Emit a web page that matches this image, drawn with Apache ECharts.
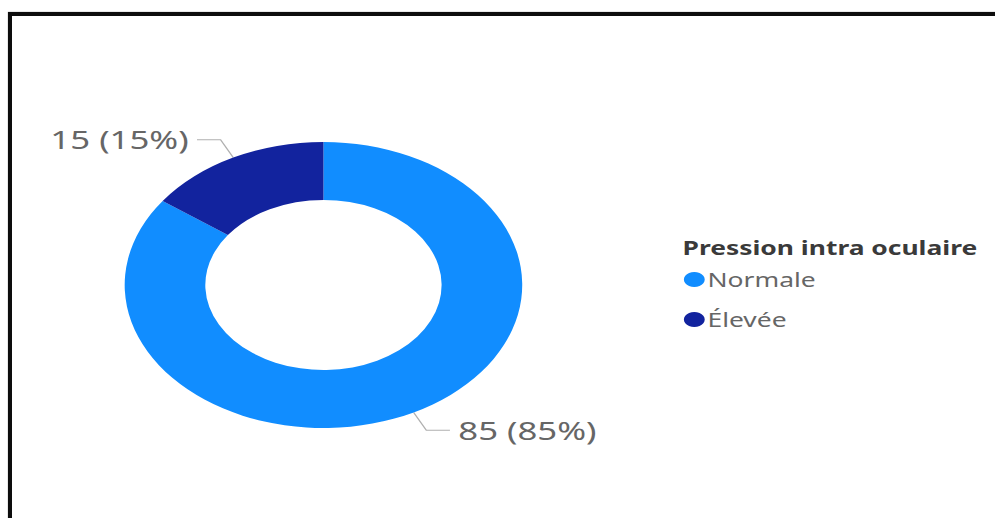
<!DOCTYPE html>
<html>
<head>
<meta charset="utf-8">
<script src="https://cdn.jsdelivr.net/npm/echarts@6/dist/echarts.min.js"></script>
<style>
  html, body { margin: 0; padding: 0; background: #fff; overflow: hidden; }
  #frame {
    position: absolute; left: 8px; top: 12px;
    width: 1100px; height: 700px;
    border: 4px solid #0d0d0d;
    box-shadow: 0 0 1px #777;
    box-sizing: border-box;
  }
  /* the chart is laid out narrow and widened horizontally */
  #chart {
    position: absolute; left: 0; top: 0;
    width: 716px; height: 518px;
    transform: scaleX(1.39);
    transform-origin: 0 0;
  }
</style>
</head>
<body>
<div id="frame"></div>
<div id="chart"></div>
<script>
// Intraocular pressure: patient counts per category
const categories = ['Normale', 'Élevée'];
const counts = [85, 15];
const legendTitle = 'Pression intra oculaire';

const palette = ['#118DFF', '#12239E'];
const fontFamily = "'Segoe UI', 'Noto Sans', 'Open Sans', sans-serif";

const chart = echarts.init(document.getElementById('chart'), null, { renderer: 'svg' });

chart.setOption({
  animation: false,
  color: palette,
  title: {
    text: legendTitle,
    left: 491,
    top: 238,
    padding: 0,
    textStyle: { fontFamily, fontSize: 19, fontWeight: 'bold', color: '#3a3a3a' }
  },
  legend: {
    orient: 'vertical',
    left: 492,
    top: 270,
    padding: 0,
    icon: 'circle',
    itemWidth: 15,
    itemHeight: 15,
    itemGap: 21,
    data: categories,
    textStyle: { fontFamily, fontSize: 19, color: '#666', padding: [0, 0, 0, -3] }
  },
  series: [{
    type: 'pie',
    center: [232.7, 285],
    radius: [85, 143],
    startAngle: 90,
    clockwise: true,
    percentPrecision: 0,
    avoidLabelOverlap: false,
    data: categories.map((name, i) => ({ name, value: counts[i] })),
    label: {
      show: true,
      position: 'outside',
      formatter: '{c} ({d}%)',
      fontFamily,
      fontSize: 25,
      color: '#666',
      distanceToLabelLine: 6
    },
    labelLine: {
      show: true,
      length: 20,
      length2: 17,
      lineStyle: { color: '#b0b0b0', width: 1 }
    },
    emphasis: { disabled: true }
  }]
});
</script>
</body>
</html>
